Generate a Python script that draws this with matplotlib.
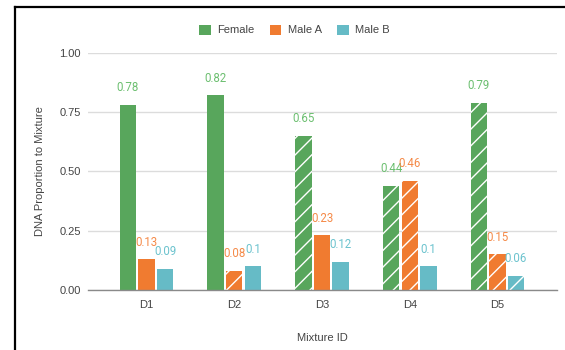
import matplotlib
matplotlib.use("Agg")
import matplotlib.pyplot as plt
from matplotlib.lines import Line2D
from matplotlib.patches import Patch
import numpy as np

# Data
mixtures = ["D1", "D2", "D3", "D4", "D5"]
female = [0.78, 0.82, 0.65, 0.44, 0.79]
male_a = [0.13, 0.08, 0.23, 0.46, 0.15]
male_b = [0.09, 0.10, 0.12, 0.10, 0.06]
series_names = ["Female", "Male A", "Male B"]
# bars drawn with a diagonal pattern
female_hatched = [False, False, True, True, True]
male_a_hatched = [False, True, False, True, True]
male_b_hatched = [False, False, False, False, True]
yticks = [0.0, 0.25, 0.5, 0.75, 1.0]

bar_colors = ["#58A65C", "#F07B30", "#66BBC6"]
label_colors = ["#6CBF70", "#F58A48", "#6CC3CE"]
text_color = "#444444"

plt.rcParams["font.family"] = ["Liberation Sans", "DejaVu Sans"]
plt.rcParams["hatch.color"] = "white"
plt.rcParams["hatch.linewidth"] = 1.0

W, H = 565, 350
fig = plt.figure(figsize=(W / 100, H / 100), dpi=100)
fig.patch.set_facecolor("white")

ax_left, ax_right, ax_top, ax_bottom = 88, 557, 52.7, 290
ax = fig.add_axes([ax_left / W, 1 - ax_bottom / H,
                   (ax_right - ax_left) / W, (ax_bottom - ax_top) / H])

x = np.arange(len(mixtures))
width = 0.188
step = 0.211
all_series = [female, male_a, male_b]
all_hatch = [female_hatched, male_a_hatched, male_b_hatched]

for i, (vals, hatches) in enumerate(zip(all_series, all_hatch)):
    xpos = x + (i - 1) * step
    for xp, v, h in zip(xpos, vals, hatches):
        ax.bar(xp, v, width=width, color=bar_colors[i],
               edgecolor="white", linewidth=0,
               hatch="//" if h else None, zorder=3)
        ax.annotate(f"{v:g}", (xp, v), xytext=(0, 12.3),
                    textcoords="offset points", ha="center", va="center",
                    fontsize=8.3, color=label_colors[i],
                    family=["Roboto", "DejaVu Sans"], zorder=4,
                    annotation_clip=False)

ax.set_xlim((ax_left - 146.5) / 87.75, (ax_right - 146.5) / 87.75)
ax.set_ylim(0, 1)
ax.set_yticks(yticks)
ax.set_yticklabels([f"{t:.2f}" for t in yticks])
ax.set_xticks(x)
ax.set_xticklabels(mixtures)
ax.tick_params(axis="both", length=0, labelsize=8, colors=text_color)
ax.tick_params(axis="y", pad=5)
ax.tick_params(axis="x", pad=7)

for s in ["top", "right", "left"]:
    ax.spines[s].set_visible(False)
ax.spines["bottom"].set_color("#8a8a8a")
ax.spines["bottom"].set_linewidth(1.0)
ax.spines["bottom"].set_zorder(5)
ax.grid(axis="y", color="#dcdcdc", linewidth=1.0, zorder=0)
ax.set_axisbelow(True)

ax.set_xlabel("Mixture ID", fontsize=8, color=text_color, labelpad=17)
fig.text(40 / W, 1 - 171 / H, "DNA Proportion to Mixture", rotation=90,
         ha="center", va="center", fontsize=8, color=text_color)

# legend
handles = [Patch(facecolor=c, edgecolor="none") for c in bar_colors]
fig.legend(handles, series_names, loc="center",
           bbox_to_anchor=(294.5 / W, 1 - 30 / H), ncol=3, frameon=False,
           fontsize=8, handlelength=1.05, handleheight=1.05,
           handletextpad=0.6, columnspacing=1.35, labelcolor=text_color,
           borderpad=0)

# black frame along the top and left edges
fig.add_artist(Line2D([15 / W, 15 / W], [0, 1 - 7 / H], transform=fig.transFigure,
                      color="black", linewidth=1.6))
fig.add_artist(Line2D([15 / W, 1], [1 - 7 / H, 1 - 7 / H], transform=fig.transFigure,
                      color="black", linewidth=1.6))

fig.savefig("out.png", dpi=100, facecolor="white")
